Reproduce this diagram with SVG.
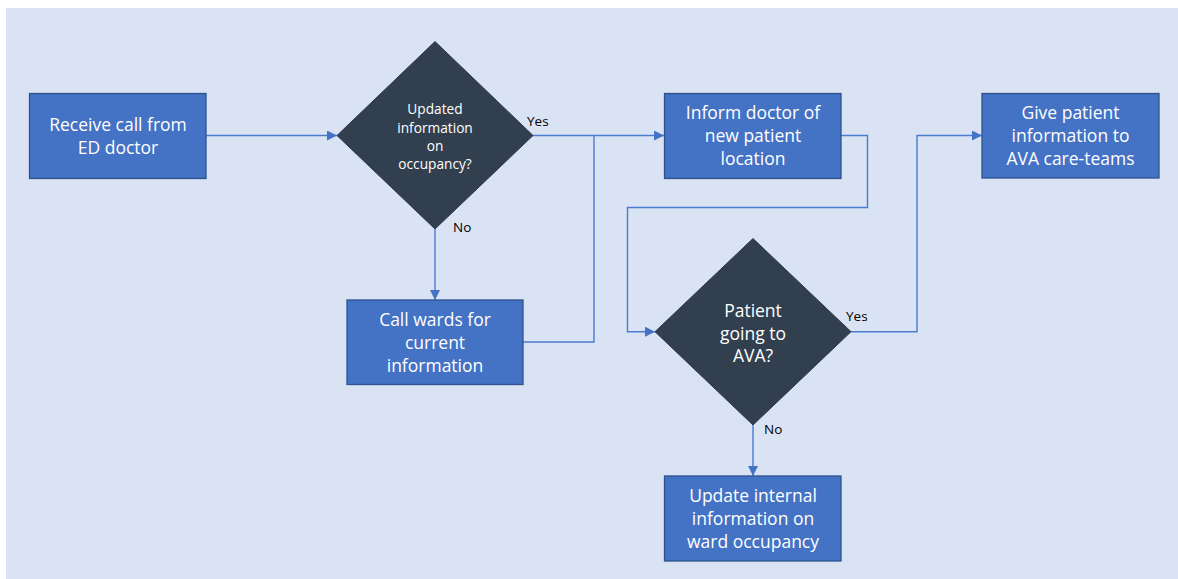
<svg xmlns="http://www.w3.org/2000/svg" width="1178" height="579" viewBox="0 0 1178 579">
<defs>
<marker id="arr" viewBox="0 0 10 10" refX="10" refY="5" markerWidth="10" markerHeight="10" markerUnits="userSpaceOnUse" orient="auto">
<path d="M0,0 L10,5 L0,10 z" fill="#4472C4"/>
</marker>
<style>
.box{fill:#4472C4;stroke:#2F528F;stroke-width:1.3}
.dia{fill:#323F4F;stroke:#2F3B4B;stroke-width:1}
.t{font-family:"Open Sans","Noto Sans",sans-serif;fill:#fff;text-anchor:middle;font-size:17.5px}
.ts{font-family:"Open Sans","Noto Sans",sans-serif;fill:#fff;text-anchor:middle;font-size:13.7px}
.lbl{font-family:"Open Sans","Noto Sans",sans-serif;fill:#000;font-size:13.5px}
.c{fill:none;stroke:#4A7BD0;stroke-width:1.4}
</style>
</defs>
<rect x="6" y="8" width="1172" height="571" fill="#DAE3F3"/>
<g id="connectors">
<path class="c" d="M206,135.5 H337" marker-end="url(#arr)"/>
<path class="c" d="M533,135.5 H664" marker-end="url(#arr)"/>
<path class="c" d="M435,229 V300" marker-end="url(#arr)"/>
<path class="c" d="M523,342 H594 V135.5"/>
<path class="c" d="M841,135.5 H867.5 V207.5 H627.5 V331.7 H655" marker-end="url(#arr)"/>
<path class="c" d="M851,331.7 H917 V135.5 H982" marker-end="url(#arr)"/>
<path class="c" d="M753,425 V476" marker-end="url(#arr)"/>
<text class="lbl" x="527" y="126">Yes</text>
<text class="lbl" x="453" y="232">No</text>
<text class="lbl" x="846" y="321">Yes</text>
<text class="lbl" x="764" y="434">No</text>
</g>
<g id="n1">
<rect class="box" x="29.5" y="93.5" width="176.5" height="85"/>
<text class="t" x="118" y="131">Receive call from</text>
<text class="t" x="118" y="154">ED doctor</text>
</g>
<g id="d1">
<polygon class="dia" points="435,41.5 533,135.5 435,229 337,135.5"/>
<text class="ts" x="435" y="114">Updated</text>
<text class="ts" x="435" y="132.5">information</text>
<text class="ts" x="435" y="151">on</text>
<text class="ts" x="435" y="169">occupancy?</text>
</g>
<g id="n2">
<rect class="box" x="347" y="300" width="176" height="84.5"/>
<text class="t" x="435" y="326">Call wards for</text>
<text class="t" x="435" y="349">current</text>
<text class="t" x="435" y="372">information</text>
</g>
<g id="n3">
<rect class="box" x="664.5" y="93.5" width="176.5" height="85"/>
<text class="t" x="753" y="119">Inform doctor of</text>
<text class="t" x="753" y="142">new patient</text>
<text class="t" x="753" y="165">location</text>
</g>
<g id="d2">
<polygon class="dia" points="753,238.5 851,331.7 753,425 655,331.7"/>
<text class="t" x="753" y="317">Patient</text>
<text class="t" x="753" y="339.5">going to</text>
<text class="t" x="753" y="362">AVA?</text>
</g>
<g id="n4">
<rect class="box" x="982" y="93.5" width="177" height="84.5"/>
<text class="t" x="1070.5" y="119">Give patient</text>
<text class="t" x="1070.5" y="142">information to</text>
<text class="t" x="1070.5" y="165">AVA care-teams</text>
</g>
<g id="n5">
<rect class="box" x="664.5" y="476" width="176.5" height="85"/>
<text class="t" x="753" y="502">Update internal</text>
<text class="t" x="753" y="525">information on</text>
<text class="t" x="753" y="548">ward occupancy</text>
</g>
</svg>
